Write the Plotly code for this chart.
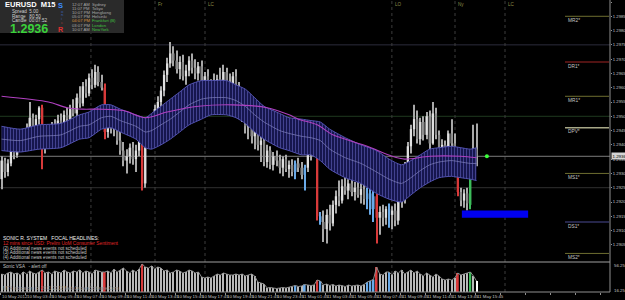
import plotly.graph_objects as go

# ---------------- data (EURUSD M15) ----------------
bars = list(range(153))
opens = [1.29280,1.29345,1.29305,1.29335,1.29395,1.29365,1.29425,1.29400,1.29445,1.29430,1.29495,1.29450,1.29490,1.29530,
1.29390,1.29440,1.29425,1.29465,1.29445,1.29485,1.29470,1.29505,1.29490,1.29525,1.29510,1.29565,1.29545,1.29605,1.29580,1.29635,1.29610,1.29655,1.29620,1.29600,
1.29445,1.29490,1.29455,1.29480,1.29415,1.29380,1.29345,1.29360,1.29390,1.29350,1.29380,1.29430,1.29265,
1.29445,1.29425,1.29475,1.29525,1.29550,1.29590,1.29645,1.29685,1.29720,1.29695,1.29665,1.29690,1.29640,1.29660,1.29695,1.29670,1.29650,
1.29675,1.29610,1.29640,1.29570,1.29615,1.29590,1.29630,1.29605,1.29655,1.29620,1.29585,1.29640,1.29605,1.29525,1.29500,1.29465,1.29485,
1.29430,1.29455,1.29400,1.29415,1.29340,1.29380,1.29330,1.29360,1.29345,1.29320,1.29350,1.29315,1.29330,1.29305,1.29335,1.29320,1.29295,1.29320,1.29370,1.29395,1.29405,
1.29150,1.29130,1.29105,1.29155,1.29125,1.29190,1.29220,1.29205,1.29255,1.29240,1.29265,1.29235,1.29250,1.29225,1.29245,1.29210,1.29230,1.29175,1.29220,1.29145,1.29165,1.29145,1.29175,1.29155,1.29170,
1.29135,1.29205,1.29210,1.29325,1.29395,1.29455,1.29490,1.29420,1.29480,1.29435,1.29500,1.29405,1.29510,1.29435,1.29380,1.29400,1.29355,1.29440,1.29405,1.29350,1.29235,1.29205,1.29230,1.29190,1.29360,1.29385]
highs = [1.29360,1.29355,1.29350,1.29405,1.29415,1.29435,1.29445,1.29455,1.29475,1.29550,1.29510,1.29505,1.29535,1.29540,
1.29455,1.29470,1.29480,1.29490,1.29505,1.29510,1.29520,1.29530,1.29540,1.29560,1.29580,1.29605,1.29620,1.29630,1.29650,1.29665,1.29680,1.29675,1.29645,1.29615,
1.29505,1.29520,1.29510,1.29490,1.29455,1.29410,1.29385,1.29405,1.29410,1.29400,1.29435,1.29440,1.29470,
1.29480,1.29490,1.29540,1.29570,1.29605,1.29660,1.29705,1.29760,1.29745,1.29730,1.29710,1.29715,1.29680,1.29710,1.29720,1.29700,1.29690,
1.29695,1.29655,1.29665,1.29630,1.29650,1.29645,1.29670,1.29680,1.29670,1.29650,1.29655,1.29665,1.29620,1.29555,1.29530,1.29505,1.29495,
1.29470,1.29465,1.29430,1.29425,1.29400,1.29395,1.29375,1.29380,1.29365,1.29360,1.29365,1.29345,1.29350,1.29345,1.29355,1.29340,1.29330,1.29385,1.29410,1.29425,1.29420,
1.29165,1.29170,1.29175,1.29190,1.29205,1.29240,1.29275,1.29280,1.29295,1.29280,1.29285,1.29270,1.29275,1.29265,1.29260,1.29250,1.29265,1.29240,1.29230,1.29185,1.29190,1.29185,1.29195,1.29185,1.29195,
1.29220,1.29245,1.29340,1.29410,1.29470,1.29540,1.29520,1.29495,1.29500,1.29515,1.29520,1.29550,1.29530,1.29450,1.29420,1.29415,1.29450,1.29490,1.29440,1.29370,1.29250,1.29245,1.29250,1.29370,1.29470,1.29475]
lows = [1.29245,1.29285,1.29290,1.29325,1.29350,1.29355,1.29385,1.29380,1.29415,1.29420,1.29430,1.29435,1.29470,1.29315,
1.29370,1.29410,1.29405,1.29430,1.29435,1.29450,1.29460,1.29475,1.29480,1.29500,1.29495,1.29530,1.29535,1.29565,1.29570,1.29595,1.29600,1.29605,1.29590,1.29420,
1.29425,1.29440,1.29430,1.29400,1.29365,1.29325,1.29300,1.29335,1.29330,1.29305,1.29360,1.29240,1.29250,
1.29400,1.29410,1.29460,1.29490,1.29530,1.29570,1.29620,1.29670,1.29675,1.29650,1.29630,1.29625,1.29610,1.29640,1.29650,1.29630,1.29625,
1.29595,1.29580,1.29555,1.29550,1.29575,1.29570,1.29590,1.29580,1.29600,1.29570,1.29575,1.29595,1.29510,1.29480,1.29440,1.29420,1.29405,
1.29385,1.29380,1.29340,1.29325,1.29320,1.29315,1.29310,1.29325,1.29300,1.29290,1.29305,1.29285,1.29290,1.29280,1.29305,1.29280,1.29240,1.29305,1.29345,1.29375,1.29135,
1.29120,1.29060,1.29055,1.29100,1.29115,1.29160,1.29185,1.29195,1.29225,1.29210,1.29220,1.29205,1.29215,1.29195,1.29190,1.29175,1.29155,1.29130,1.29055,1.29085,1.29115,1.29120,1.29110,1.29105,1.29115,
1.29120,1.29180,1.29195,1.29290,1.29370,1.29430,1.29405,1.29400,1.29415,1.29420,1.29385,1.29400,1.29420,1.29360,1.29330,1.29340,1.29345,1.29380,1.29340,1.29220,1.29185,1.29180,1.29170,1.29175,1.29330,1.29325]
closes = [1.29345,1.29305,1.29335,1.29395,1.29365,1.29425,1.29400,1.29445,1.29430,1.29495,1.29450,1.29490,1.29530,1.29390,
1.29440,1.29425,1.29465,1.29445,1.29485,1.29470,1.29505,1.29490,1.29525,1.29510,1.29565,1.29545,1.29605,1.29580,1.29635,1.29610,1.29655,1.29620,1.29600,1.29445,
1.29490,1.29455,1.29480,1.29415,1.29380,1.29345,1.29360,1.29390,1.29350,1.29380,1.29430,1.29265,1.29445,
1.29425,1.29475,1.29525,1.29550,1.29590,1.29645,1.29685,1.29720,1.29695,1.29665,1.29690,1.29640,1.29660,1.29695,1.29670,1.29650,1.29675,
1.29610,1.29640,1.29570,1.29615,1.29590,1.29630,1.29605,1.29655,1.29620,1.29585,1.29640,1.29605,1.29525,1.29500,1.29465,1.29485,1.29430,
1.29455,1.29400,1.29415,1.29340,1.29380,1.29330,1.29360,1.29345,1.29320,1.29350,1.29315,1.29330,1.29305,1.29335,1.29320,1.29295,1.29320,1.29370,1.29395,1.29405,1.29150,
1.29130,1.29105,1.29155,1.29125,1.29190,1.29220,1.29205,1.29255,1.29240,1.29265,1.29235,1.29250,1.29225,1.29245,1.29210,1.29230,1.29175,1.29220,1.29145,1.29165,1.29145,1.29175,1.29155,1.29170,1.29135,
1.29205,1.29210,1.29325,1.29395,1.29455,1.29490,1.29420,1.29480,1.29435,1.29500,1.29405,1.29510,1.29435,1.29380,1.29400,1.29355,1.29440,1.29405,1.29350,1.29235,1.29205,1.29230,1.29195,1.29360,1.29385,1.29360]

vsa_volume = [1800,1700,1900,2000,1800,1900,1700,2000,1800,2100,1900,1800,2000,2200,
1900,2000,1800,2100,2000,1900,2200,2000,1900,2100,2000,2200,1900,2100,2000,1800,2200,2100,2000,2000,
2100,1900,2300,2000,2200,2400,2100,1900,2200,2000,2300,2800,
2500,2400,2600,2300,2500,2400,
2100,2200,1900,2000,2200,2100,1900,2000,2200,2100,1900,2000,
1500,1400,1500,1400,1600,1800,1700,1900,1800,1700,
1700,1800,1700,1800,1600,1700,1800,1600,1000,900,800,
400,450,400,350,400,450,400,500,550,650,550,600,750,700,650,700,1200,1100,
700,800,650,750,600,700,650,550,700,600,650,700,600,750,1000,1100,1250,2500,
1800,1700,2000,2000,1700,2100,1900,2200,1800,2000,2200,1900,2100,
1800,1600,1900,1700,1500,1800,1600,1300,1200,1300,1200,1400,1900,1700,1800,1900,2000,1600,1100]
vsa_red = [13, 33, 45, 101, 120, 146]
vsa_blue = [94, 97, 102, 117, 118, 119, 124]
vsa_green = [150]

band_bar = [0,6,12,19,25,28,32,35,38,43,46,48,51,54,57,60,64,67,72,75,78,81,84,89,92,96,99,102,105,110,115,120,124,128,131,134,137,140,144,147,150,152]
band_upper = [1.29465,1.29455,1.29470,1.29475,1.29505,1.29515,1.29540,1.29540,1.29525,1.29505,1.29495,1.29510,1.29535,1.29560,1.29585,1.29610,1.29625,1.29625,1.29625,1.29610,1.29595,1.29565,1.29535,1.29510,1.29495,1.29490,1.29485,1.29480,1.29455,1.29425,1.29400,1.29380,1.29350,1.29330,1.29345,1.29365,1.29385,1.29390,1.29395,1.29390,1.29385,1.29390]
band_mid = [1.29420,1.29415,1.29430,1.29435,1.29465,1.29470,1.29495,1.29500,1.29485,1.29465,1.29445,1.29450,1.29470,1.29490,1.29515,1.29540,1.29560,1.29565,1.29565,1.29555,1.29535,1.29505,1.29480,1.29450,1.29440,1.29430,1.29425,1.29415,1.29385,1.29355,1.29335,1.29305,1.29280,1.29265,1.29285,1.29310,1.29330,1.29340,1.29345,1.29340,1.29335,1.29335]
band_lower = [1.29380,1.29375,1.29385,1.29390,1.29420,1.29425,1.29455,1.29460,1.29445,1.29420,1.29390,1.29385,1.29400,1.29420,1.29445,1.29470,1.29490,1.29505,1.29505,1.29495,1.29475,1.29445,1.29420,1.29390,1.29380,1.29365,1.29365,1.29345,1.29315,1.29285,1.29265,1.29230,1.29210,1.29200,1.29225,1.29250,1.29270,1.29285,1.29290,1.29285,1.29280,1.29275]

ma_bar = [0,15,21,26,31,39,46,53,63,74,85,92,95,101,106,117,125,129,137,147,152]
ma_value = [1.29570,1.29550,1.29530,1.29525,1.29525,1.29520,1.29495,1.29515,1.29535,1.29540,1.29530,1.29505,1.29490,1.29470,1.29435,1.29395,1.29360,1.29350,1.29360,1.29360,1.29355]

pivot_names = ["MR2*", "DR1*", "MR1*", "DPV*", "MS1*", "DS1*", "MS2*"]
pivot_levels = [1.2985, 1.2969, 1.2957, 1.2946, 1.2930, 1.2913, 1.2902]
pivot_colors = ["#6e6e30", "#a02424", "#6e6e30", "#a8a888", "#6e6e30", "#4a4a92", "#6e6e30"]
quarter_levels = [1.2975, 1.2950, 1.2925]
quarter_colors = ["#2c2c3c", "#1f3a1f", "#303030"]
bid_price = 1.2936
price_ticks = [1.2905,1.2910,1.2915,1.2920,1.2925,1.2930,1.2935,1.2940,1.2945,1.2950,1.2955,1.2960,1.2965,1.2970,1.2975,1.2980,1.2985,1.2990]
time_labels = ["10 May 2012","10 May 03:45","10 May 05:45","10 May 07:45","10 May 09:45","10 May 11:45","10 May 13:45",
               "10 May 15:45","10 May 17:45","10 May 19:45","10 May 21:45","10 May 23:45","11 May 01:45","11 May 03:45",
               "11 May 05:45","11 May 07:45","11 May 09:45","11 May 11:45","11 May 13:45","11 May 15:45"]
time_label_bars = [8 * k - 0.5 for k in range(len(time_labels))]
session_bars = [28.6, 49.1, 65.1, 124.9, 145.1, 161.1]
session_names = ["", "Fr", "LC", "LO", "Ny", "LC"]
zone_bars = (147.3, 168.5)
zone_prices = (1.29145, 1.29170)
signal_bar, signal_price = 155.3, 1.2936
clock_times = ["12:07 AM", "11:07 PM", "10:07 PM", "05:07 PM", "04:07 PM", "03:07 PM", "10:07 AM"]
clock_cities = ["Sydney", "Tokyo", "Hongkong", "Helsinki", "Frankfurt (B)", "London", "NewYork"]
news_lines = ["(2) Additional news events not scheduled", "(3) Additional news events not scheduled",
              "(4) Additional news events not scheduled"]

# ---------------- style ----------------
W, H = 610, 292
FONT = "Liberation Sans, Arial"
RED, BLUE, GREEN = "#d83a3a", "#6aaae8", "#3cbc5a"
BULL, BEAR, WICK = "#e0e0e0", "#8a8a8a", "#a8a8a8"


def xp(px):
    return px / W


def yp(py):
    return 1 - py / H


def vsa_color(i, default):
    if i in vsa_red:
        return RED
    if i in vsa_blue:
        return BLUE
    if i in vsa_green:
        return GREEN
    return default


body_base = [min(o, c) for o, c in zip(opens, closes)]
body_h = [max(abs(c - o), 0.00003) for o, c in zip(opens, closes)]
body_col = [vsa_color(i, BULL if closes[i] >= opens[i] else BEAR) for i in bars]
wick_col = [vsa_color(i, WICK) for i in bars]
vol_col = [vsa_color(i, "#b8b8b8") for i in bars]
vol_col[-1] = "#ffffff"
vol_w = [0.6 if vsa_color(i, None) else 0.3 for i in bars]

fig = go.Figure()

# Sonic R dragon band
fig.add_trace(go.Scatter(x=band_bar, y=band_lower, mode="lines", line=dict(color="#5252b0", width=1, shape="spline", smoothing=0.6),
                         yaxis="y", hoverinfo="skip"))
fig.add_trace(go.Scatter(x=band_bar, y=band_upper, mode="lines", line=dict(color="#5252b0", width=1, shape="spline", smoothing=0.6),
                         fill="tonexty", fillcolor="#161652",
                         fillpattern=dict(shape="|", fgcolor="#5050a4", bgcolor="#16164e", size=3, solidity=0.25),
                         yaxis="y", hoverinfo="skip"))
fig.add_trace(go.Scatter(x=band_bar, y=band_mid, mode="lines", line=dict(color="#8484c0", width=0.7, shape="spline", smoothing=0.6),
                         yaxis="y", hoverinfo="skip"))

# candles: wicks then bodies
fig.add_trace(go.Bar(x=bars, y=[h - l for h, l in zip(highs, lows)], base=lows, width=0.33,
                     marker=dict(color=wick_col, line=dict(width=0)), yaxis="y"))
fig.add_trace(go.Bar(x=bars, y=body_h, base=body_base, width=0.72,
                     marker=dict(color=body_col, line=dict(width=0)), yaxis="y"))

# slow MA
fig.add_trace(go.Scatter(x=ma_bar, y=ma_value, mode="lines", line=dict(color="#b040c0", width=1.1, shape="spline", smoothing=0.8),
                         yaxis="y", hoverinfo="skip"))

# signal dot
fig.add_trace(go.Scatter(x=[signal_bar], y=[signal_price], mode="markers", marker=dict(color="#3cff3c", size=4),
                         yaxis="y", hoverinfo="skip"))

# VSA volume pane
fig.add_trace(go.Bar(x=bars, y=vsa_volume, width=vol_w, marker=dict(color=vol_col, line=dict(width=0)), yaxis="y2"))
fig.add_trace(go.Scatter(x=bars, y=vsa_volume, mode="lines", line=dict(color="#8c8c8c", width=1), yaxis="y2", hoverinfo="skip"))

shapes = []
annotations = []

# info panel box
shapes.append(dict(type="rect", xref="paper", yref="paper", x0=0, x1=xp(124), y0=yp(33), y1=yp(0),
                   fillcolor="#2a2a2a", line=dict(width=0), layer="above"))

# quarter-level lines and bid line
for lv, col in zip(quarter_levels, quarter_colors):
    shapes.append(dict(type="line", xref="paper", yref="y", x0=0, x1=1, y0=lv, y1=lv, line=dict(color=col, width=1), layer="below"))
shapes.append(dict(type="line", xref="paper", yref="y", x0=0, x1=1, y0=bid_price, y1=bid_price,
                   line=dict(color="#7c7c7c", width=1), layer="below"))

# session separators
for sb, sn in zip(session_bars, session_names):
    shapes.append(dict(type="line", xref="x", yref="paper", x0=sb, x1=sb, y0=0, y1=1,
                       line=dict(color="#3c3c3c", width=1, dash="dot"), layer="below"))
    if sn:
        annotations.append(dict(x=sb, xref="x", y=yp(4), yref="paper", text=sn, showarrow=False, xanchor="left",
                                yanchor="middle", xshift=2, font=dict(family=FONT, size=4.6, color="#8c8c48")))

# pivots
for nm, lv, col in zip(pivot_names, pivot_levels, pivot_colors):
    shapes.append(dict(type="line", xref="paper", yref="y", x0=xp(565), x1=xp(609), y0=lv, y1=lv,
                       line=dict(color=col, width=1.5 if nm == "DPV*" else 1)))
    annotations.append(dict(x=xp(567), xref="paper", y=lv, yref="y", text=nm, showarrow=False, xanchor="left",
                            yanchor="top", yshift=-0.5, font=dict(family=FONT, size=4.8, color="#c4c4c4")))

# target zone
shapes.append(dict(type="rect", xref="x", yref="y", x0=zone_bars[0], x1=zone_bars[1], y0=zone_prices[0], y1=zone_prices[1],
                   fillcolor="#0000f0", line=dict(width=0)))

# pane borders
shapes.append(dict(type="line", xref="paper", yref="paper", x0=0, x1=1, y0=yp(262), y1=yp(262), line=dict(color="#a0a0a0", width=1)))
shapes.append(dict(type="line", xref="paper", yref="paper", x0=0, x1=1, y0=0, y1=0, line=dict(color="#909090", width=1)))
shapes.append(dict(type="line", xref="paper", yref="paper", x0=1, x1=1, y0=0, y1=1, line=dict(color="#909090", width=1)))

# info panel texts
annotations.append(dict(x=xp(4), y=yp(5), text="<b>EURUSD  M15</b>", font=dict(family=FONT, size=7.5, color="#ffffff")))
for txt, py in [("Spread  5.00", 12), ("Range   80.50", 16.5), ("Candle  00:07:52", 21)]:
    annotations.append(dict(x=xp(11), y=yp(py), text=txt, font=dict(family=FONT, size=4.6, color="#d0d0d0")))
annotations.append(dict(x=xp(9), y=yp(28.5), text="<b>1.2936</b>", font=dict(family=FONT, size=12.5, color="#3ad23a")))
annotations.append(dict(x=xp(57), y=yp(5.5), text="<b>S</b>", font=dict(family=FONT, size=7.5, color="#3a8cff")))
for ch, py, col in [("o", 11, "#3a5fb0"), ("n", 14.8, "#3a5fb0"), ("i", 18.6, "#3a5fb0"), ("c", 22.4, "#a03a3a")]:
    annotations.append(dict(x=xp(59.5), y=yp(py), text=ch, font=dict(family=FONT, size=4.2, color=col)))
annotations.append(dict(x=xp(57), y=yp(29.5), text="<b>R</b>", font=dict(family=FONT, size=7, color="#e23030")))
for k, (tm, city) in enumerate(zip(clock_times, clock_cities)):
    py = 4 + 4.2 * k
    tcol = "#d89038" if city.startswith("Frankfurt") else "#a8a8a8"
    ccol = "#40c040" if k >= 4 else "#a8a8a8"
    annotations.append(dict(x=xp(71), y=yp(py), text=tm, font=dict(family=FONT, size=4.2, color=tcol)))
    annotations.append(dict(x=xp(91), y=yp(py), text=city, font=dict(family=FONT, size=4.2, color=ccol)))

# headlines
annotations.append(dict(x=xp(2), y=yp(238), text="SONIC R. SYSTEM   FOCAL HEADLINES:", font=dict(family=FONT, size=5, color="#f0f0f0")))
annotations.append(dict(x=xp(2), y=yp(243.5), text="12 mins since USD: Prelim UoM Consumer Sentiment", font=dict(family=FONT, size=4.8, color="#e02828")))
for k, ln in enumerate(news_lines):
    annotations.append(dict(x=xp(2), y=yp(248.5 + 4.3 * k), text=ln, font=dict(family=FONT, size=4.6, color="#c8c8c8")))
annotations.append(dict(x=xp(2), y=yp(266.5), text="Sonic VSA   - alert off", font=dict(family=FONT, size=4.6, color="#c0c0c0")))
annotations.append(dict(x=xp(2), y=yp(288.5), text="MT4 Indicators (c) 2011-2012 MetaQuotesSoftware Corp.", font=dict(family=FONT, size=4.6, color="#8a8a8a")))

for a in annotations:
    a.setdefault("xref", "paper")
    a.setdefault("yref", "paper")
    a.setdefault("showarrow", False)
    a.setdefault("xanchor", "left")
    a.setdefault("yanchor", "middle")
    a.setdefault("borderpad", 0)

# time labels
for tb, tl in zip(time_label_bars, time_labels):
    annotations.append(dict(x=tb, xref="x", y=0, yref="paper", text=tl, showarrow=False, xanchor="left", yanchor="top",
                            xshift=0.5, yshift=-0.5, borderpad=0, font=dict(family=FONT, size=4.4, color="#c4c4c4")))

# price box + volume pane scale
annotations.append(dict(x=1, xref="paper", y=bid_price, yref="y", text="1.2936", showarrow=False, xanchor="left",
                        yanchor="middle", xshift=1, bgcolor="#d4d4d4", borderpad=0.5,
                        font=dict(family=FONT, size=4.4, color="#000000")))
annotations.append(dict(x=1, xref="paper", y=yp(265), yref="paper", text="56.25", showarrow=False, xanchor="left",
                        yanchor="middle", xshift=2, font=dict(family=FONT, size=4.4, color="#c4c4c4")))
annotations.append(dict(x=1, xref="paper", y=yp(290), yref="paper", text="16.25", showarrow=False, xanchor="left",
                        yanchor="middle", xshift=2, font=dict(family=FONT, size=4.4, color="#c4c4c4")))

fig.update_layout(
    template="none",
    width=625, height=300,
    margin=dict(l=0, r=15, t=0, b=8),
    paper_bgcolor="#000000", plot_bgcolor="#000000",
    showlegend=False, barmode="overlay",
    font=dict(family=FONT, color="#c4c4c4"),
    xaxis=dict(domain=[0, 1], range=[-0.5, 194.7], anchor="y2", showgrid=False, zeroline=False, showline=False,
               tickvals=[8 * k - 0.5 for k in range(25)], ticks="outside", ticklen=2, tickcolor="#909090",
               showticklabels=False, automargin=False),
    yaxis=dict(domain=[1 - 258 / H, 1], range=[1.29004, 1.29907], side="right", anchor="x", showgrid=False,
               zeroline=False, showline=False, tickvals=price_ticks, ticktext=["%.4f" % v for v in price_ticks],
               ticks="outside", ticklen=1, tickcolor="#909090", tickfont=dict(family=FONT, size=4.2, color="#c4c4c4"),
               automargin=False),
    yaxis2=dict(domain=[0, 30 / H], range=[0, 3000], side="right", anchor="x", showgrid=False, zeroline=False,
                showline=False, showticklabels=False, ticks="", automargin=False),
    shapes=shapes,
    annotations=annotations,
)

fig.write_html("out.html")
